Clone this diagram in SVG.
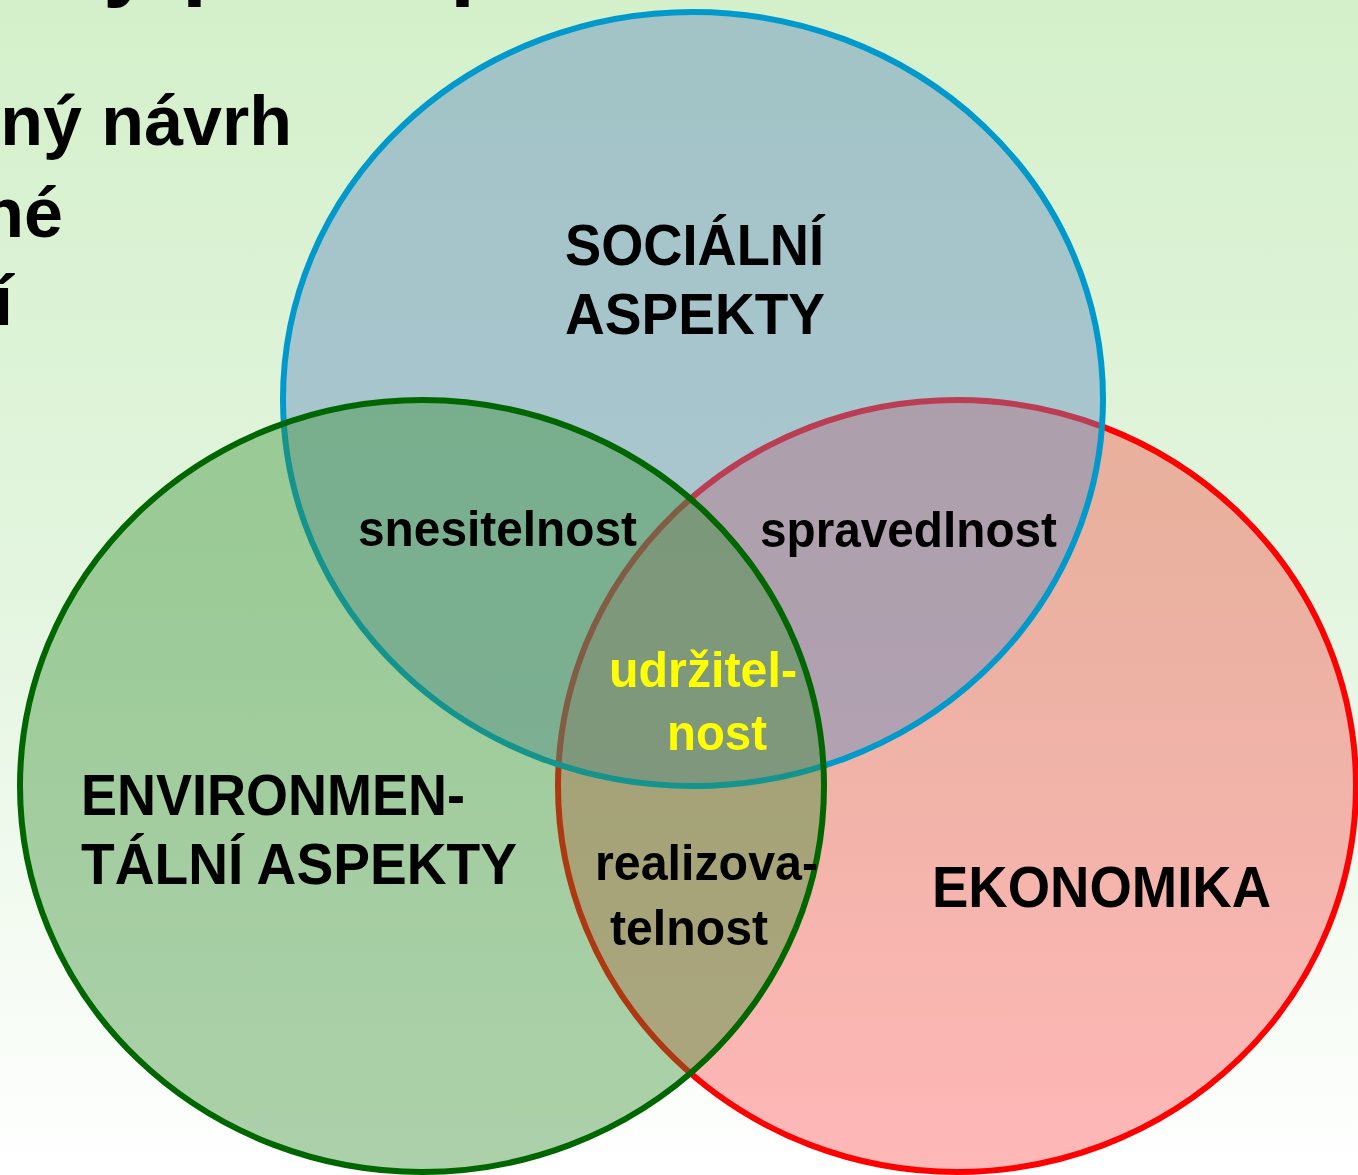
<svg xmlns="http://www.w3.org/2000/svg" width="1358" height="1175" viewBox="0 0 1358 1175">
<defs>
<linearGradient id="bg" x1="0" y1="0" x2="0" y2="1">
<stop offset="0" stop-color="#d4f0ca"/>
<stop offset="0.5" stop-color="#e3f5df"/>
<stop offset="1" stop-color="#ffffff"/>
</linearGradient>
<style>
.lbl{font-family:"Liberation Sans",Arial,Helvetica,sans-serif;font-weight:bold;fill:#000}
.big{font-size:57px}
.small{font-size:50px}
.title{font-size:70px}
.head{font-size:90px}
.yel{fill:#ffff00}
.circ{stroke-width:6}
</style>
</defs>
<rect width="1358" height="1175" fill="url(#bg)"/>
<g id="slide-text" class="lbl">
<text class="head" x="103" y="-11">y</text>
<text class="head" x="182" y="-12">p</text>
<text class="head" x="450" y="-12">p</text>
<text class="title" x="292" y="145" text-anchor="end">ný návrh</text>
<text class="title" x="63" y="237" text-anchor="end">né</text>
<text class="title" x="13" y="325" text-anchor="end">í</text>
</g>
<g id="ekonomika">
<ellipse class="circ" cx="957" cy="786" rx="399" ry="386" fill="#ff0000" fill-opacity="0.28" stroke="#ff0000"/>
</g>
<g id="socialni">
<ellipse class="circ" cx="693" cy="399" rx="410" ry="387" fill="#628cc0" fill-opacity="0.44" stroke="#0099cc"/>
</g>
<g id="environmentalni">
<ellipse class="circ" cx="422" cy="786" rx="402" ry="386" fill="#328c2d" fill-opacity="0.4" stroke="#006600"/>
</g>
<g id="labels" class="lbl">
<text class="big" x="565" y="265" textLength="259" lengthAdjust="spacingAndGlyphs">SOCIÁLNÍ</text>
<text class="big" x="565" y="334" textLength="260" lengthAdjust="spacingAndGlyphs">ASPEKTY</text>
<text class="small" x="358" y="546" textLength="279" lengthAdjust="spacingAndGlyphs">snesitelnost</text>
<text class="small" x="760" y="547" textLength="297" lengthAdjust="spacingAndGlyphs">spravedlnost</text>
<text class="small yel" x="609" y="687" textLength="188" lengthAdjust="spacingAndGlyphs">udržitel-</text>
<text class="small yel" x="667" y="750" textLength="100" lengthAdjust="spacingAndGlyphs">nost</text>
<text class="small" x="595" y="880" textLength="223" lengthAdjust="spacingAndGlyphs">realizova-</text>
<text class="small" x="610" y="945" textLength="158" lengthAdjust="spacingAndGlyphs">telnost</text>
<text class="big" x="81" y="815" textLength="384" lengthAdjust="spacingAndGlyphs">ENVIRONMEN-</text>
<text class="big" x="81" y="884" textLength="436" lengthAdjust="spacingAndGlyphs">TÁLNÍ ASPEKTY</text>
<text class="big" x="932" y="907" textLength="339" lengthAdjust="spacingAndGlyphs">EKONOMIKA</text>
</g>
</svg>
